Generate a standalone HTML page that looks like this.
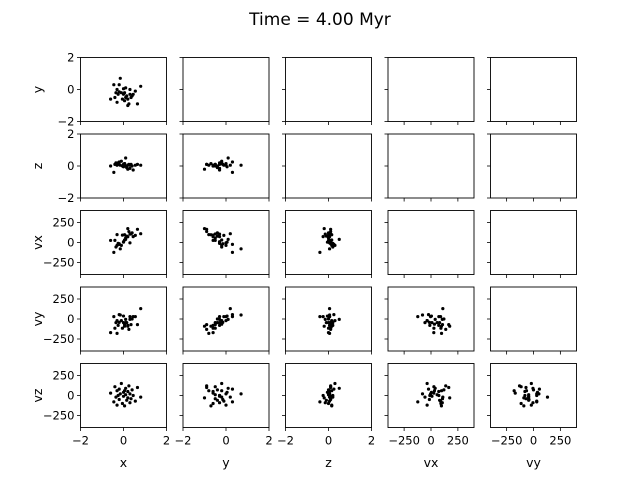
<!DOCTYPE html>
<html><head><meta charset="utf-8"><style>
html,body{margin:0;padding:0;background:#fff;}
svg{display:block;font-family:"DejaVu Sans","Liberation Sans",sans-serif;}
</style></head><body>
<svg id="chart" width="640" height="480" viewBox="0 0 640 480" xmlns="http://www.w3.org/2000/svg">
<text x="320" y="25" text-anchor="middle" font-size="17">Time = 4.00 Myr</text>
</svg>
<script>
const varNames = ["x","y","z","vx","vy","vz"];
const xs  = [-0.6,-0.45,-0.4,-0.35,-0.3,-0.3,-0.25,-0.2,-0.2,-0.15,-0.1,-0.05,0,0,0.05,0.1,0.1,0.15,0.2,0.2,0.25,0.3,0.3,0.35,0.4,0.45,0.55,0.65,0.8,0.05];
const ys  = [-0.6,0.3,-0.5,-0.2,-0.8,0.0,-0.3,0.3,-0.15,0.7,-0.2,-0.6,0.05,-0.3,-0.7,0.1,-0.5,-0.4,-0.6,-1.0,-0.9,-0.3,0.0,-0.5,-0.4,-0.3,-0.1,-0.9,0.2,-0.2];
const zs  = [0.0,-0.4,0.1,0.2,0.05,0.15,0.2,0.25,0.1,0.05,0.3,0.0,-0.05,0.1,0.15,0.5,0.0,-0.1,0.05,-0.2,0.1,-0.15,0.05,0.1,0,-0.25,0.05,0.1,0.05,0.15];
const vxs = [26,-123,27,-56,98,-36,-11,-23,-15,-79,-36,92,4,9,97,39,57,80,72,174,137,105,-4,107,120,73,89,165,110,32];
const vys = [-170,30,-115,-45,-180,-20,-80,55,-42,50,-20,-115,37,-45,-90,-5,-45,-45,-80,-90,-130,-5,30,-70,0,30,30,-70,130,-65];
const vzs = [30,-80,110,-20,60,-120,0,80,-50,20,150,-100,40,-10,-130,90,10,-60,50,-30,120,-90,20,-40,70,0,-70,100,-20,60];
const posTicks = [-2,0,2];
const velTicks = [-250,0,250];

const cols = [xs,ys,zs,vxs,vys,vzs];
const NS="http://www.w3.org/2000/svg";
const svg=document.getElementById('chart');
const L0=80.5, CW=86, CS=102.5, T0=57.5, RH=64, RS=76.5;
function mk(tag,attrs,parent){const e=document.createElementNS(NS,tag);for(const k in attrs)e.setAttribute(k,attrs[k]);(parent||svg).appendChild(e);return e;}
function range(i){return i<3?[-2,2]:[-400,400];}
function ticks(i){return i<3?posTicks:velTicks;}
function lab(v){return v<0?"\u2212"+Math.abs(v):String(v);}

for(let r=0;r<5;r++){
  const yi=r+1;
  for(let c=0;c<5;c++){
    const xi=c;
    const left=L0+c*CS, top=T0+r*RS;
    const g=mk('g',{});
    
    
    const [xa,xb]=range(xi),[ya,yb]=range(yi);
    const sx=v=>left+(v-xa)/(xb-xa)*CW;
    const sy=v=>top+RH-(v-ya)/(yb-ya)*RH;
    if(c<=r){
      const xv=cols[xi], yv=cols[yi];
      for(let k=0;k<xv.length;k++){
        const p=mk('circle',{cx:sx(xv[k]).toFixed(2),cy:sy(yv[k]).toFixed(2),r:1.6,fill:'#000'},g);
        
        
      }
    }
    mk('rect',{x:left,y:top,width:CW,height:RH,fill:'none',stroke:'#000','stroke-width':0.9},g);
    for(const t of ticks(xi)){
      const X=sx(t);
      mk('line',{x1:X,x2:X,y1:top+RH,y2:top+RH+3.5,stroke:'#000','stroke-width':0.8},g);
      if(r===4){const tx=mk('text',{x:X,y:top+RH+17,'text-anchor':'middle','font-size':11.5},g);tx.textContent=lab(t);
        
        }
    }
    for(const t of ticks(yi)){
      const Y=sy(t);
      mk('line',{x1:left-3.5,x2:left,y1:Y,y2:Y,stroke:'#000','stroke-width':0.8},g);
      if(c===0){const ty=mk('text',{x:left-6,y:Y+4,'text-anchor':'end','font-size':11.5},g);ty.textContent=lab(t);
        
        }
    }
  }
  const yl=mk('text',{x:0,y:0,'text-anchor':'middle','font-size':12.5,transform:`translate(42,${T0+r*RS+RH/2}) rotate(-90)`});
  yl.textContent=varNames[yi];
  
  
}
for(let c=0;c<5;c++){
  const xl=mk('text',{x:L0+c*CS+CW/2,y:467,'text-anchor':'middle','font-size':12.5});
  xl.textContent=varNames[c];
  
  
}
</script>
</body></html>
